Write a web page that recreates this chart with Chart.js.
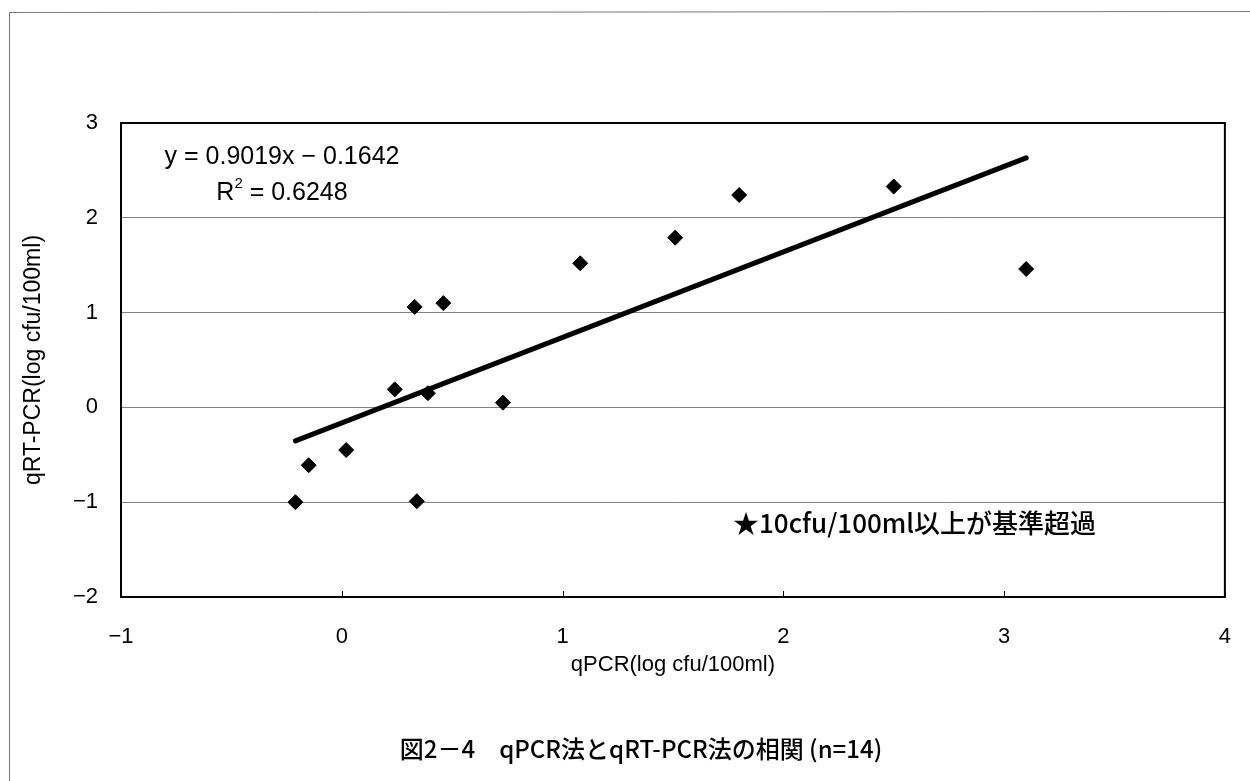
<!DOCTYPE html>
<html lang="ja">
<head>
  <meta charset="UTF-8" />
  <title>qPCR法とqRT-PCR法の相関</title>
  <script src="https://cdn.jsdelivr.net/npm/chart.js"></script>
  <style>
    html, body { margin: 0; padding: 0; background: #fff; }
    #wrap { width: 1250px; height: 781px; position: relative; }
  </style>
</head>
<body>
  <div id="wrap">
    <canvas id="grafico" width="1250" height="781"></canvas>
  </div>

  <script>
    // データ
    const qpcr   = [-0.21, -0.15, 0.02, 0.24, 0.33, 0.34, 0.39, 0.46, 0.73, 1.08, 1.51, 1.80, 2.50, 3.10];
    const qrtpcr = [-1.00, -0.61, -0.45, 0.19, 1.06, -0.99, 0.15, 1.10, 0.05, 1.52, 1.79, 2.24, 2.33, 1.46];

    // 近似直線 y = 0.9019x - 0.1642
    const slope = 0.9019;
    const intercept = -0.1642;
    const r2 = "0.6248";

    const xTicks = [-1, 0, 1, 2, 3, 4];
    const yTicks = [-2, -1, 0, 1, 2, 3];

    const xTitle = "qPCR(log cfu/100ml)";
    const yTitle = "qRT-PCR(log cfu/100ml)";
    const note = "★10cfu/100ml以上が基準超過";
    const caption = "図2－4　qPCR法とqRT-PCR法の相関 (n=14)";

    const puntos = qpcr.map((x, i) => ({ x: x, y: qrtpcr[i] }));
    const xMin = Math.min(...qpcr), xMax = Math.max(...qpcr);
    const tendencia = [
      { x: xMin, y: slope * xMin + intercept },
      { x: xMax, y: slope * xMax + intercept }
    ];

    const latin = "'Liberation Sans', Arial, sans-serif";
    const cjk = "'Noto Sans CJK JP', 'Liberation Sans', sans-serif";

    // 枠・目盛り・注記を描くプラグイン
    const extras = {
      id: 'extras',
      afterDraw(chart) {
        const ctx = chart.ctx;
        const a = chart.chartArea;
        const xs = chart.scales.x;
        ctx.save();

        // ページの枠 (スキャン原稿の線)
        ctx.strokeStyle = '#777';
        ctx.lineWidth = 1;
        ctx.beginPath();
        ctx.moveTo(9.5, 781);
        ctx.lineTo(9.5, 12.5);
        ctx.lineTo(1250, 11.5);
        ctx.stroke();

        // プロットエリアの枠
        ctx.strokeStyle = '#000';
        ctx.lineWidth = 2;
        ctx.strokeRect(a.left, a.top, a.right - a.left, a.bottom - a.top);

        // x軸の内向き目盛り
        ctx.lineWidth = 1;
        ctx.beginPath();
        xTicks.forEach(v => {
          const px = Math.round(xs.getPixelForValue(v)) + 0.5;
          ctx.moveTo(px, a.bottom);
          ctx.lineTo(px, a.bottom - 6);
        });
        ctx.stroke();

        // 回帰式
        ctx.fillStyle = '#000';
        ctx.textBaseline = 'middle';
        ctx.font = '25px ' + latin;
        ctx.textAlign = 'center';
        ctx.fillText('y = 0.9019x − 0.1642', 282, 157);

        const rest = ' = ' + r2;
        const wR = ctx.measureText('R').width;
        const wRest = ctx.measureText(rest).width;
        ctx.font = '15px ' + latin;
        const w2 = ctx.measureText('2').width;
        const total = wR + w2 + wRest;
        let x0 = 282 - total / 2;
        ctx.textAlign = 'left';
        ctx.font = '25px ' + latin;
        ctx.fillText('R', x0, 193);
        ctx.font = '15px ' + latin;
        ctx.fillText('2', x0 + wR, 184);
        ctx.font = '25px ' + latin;
        ctx.fillText(rest, x0 + wR + w2, 193);

        // 注記
        ctx.font = '500 26px ' + cjk;
        ctx.textAlign = 'left';
        ctx.fillText(note, 733, 523);

        // 図タイトル
        ctx.font = '500 24px ' + cjk;
        ctx.textAlign = 'center';
        ctx.fillText(caption, 641, 749);

        ctx.restore();
      }
    };

    const ctx = document.getElementById('grafico').getContext('2d');
    const grafico = new Chart(ctx, {
      type: 'scatter',
      data: {
        datasets: [
          {
            label: 'データ',
            data: puntos,
            pointStyle: 'rectRot',
            pointRadius: 7.5,
            pointBackgroundColor: '#000',
            pointBorderColor: '#000',
            pointBorderWidth: 1,
            order: 2
          },
          {
            label: '近似直線',
            type: 'line',
            data: tendencia,
            borderColor: '#000',
            borderWidth: 5,
            borderCapStyle: 'round',
            pointRadius: 0,
            fill: false,
            order: 1
          }
        ]
      },
      options: {
        responsive: false,
        animation: false,
        layout: { padding: { top: 123, right: 22, left: 0, bottom: 0 } },
        plugins: {
          legend: { display: false },
          tooltip: { enabled: false }
        },
        scales: {
          x: {
            type: 'linear',
            min: -1,
            max: 4,
            afterBuildTicks: s => { s.ticks = xTicks.map(v => ({ value: v })); },
            afterFit: s => { s.height = 184; },
            grid: { display: false },
            border: { display: false },
            ticks: {
              color: '#000',
              padding: 19,
              font: { family: latin, size: 22 },
              callback: v => (v < 0 ? '−' + Math.abs(v) : String(v))
            },
            title: {
              display: true,
              text: xTitle,
              color: '#000',
              font: { family: latin, size: 22 },
              padding: { top: 0, bottom: 103 }
            }
          },
          y: {
            type: 'linear',
            min: -2,
            max: 3,
            afterBuildTicks: s => { s.ticks = yTicks.map(v => ({ value: v })); },
            afterFit: s => { s.width = 121; },
            grid: { color: '#808080', lineWidth: 1, drawTicks: false },
            border: { display: false },
            ticks: {
              color: '#000',
              padding: 23,
              font: { family: latin, size: 22 },
              callback: v => (v < 0 ? '−' + Math.abs(v) : String(v))
            },
            title: {
              display: true,
              text: yTitle,
              color: '#000',
              font: { family: latin, size: 23 },
              padding: { top: 20, bottom: 0 }
            }
          }
        }
      },
      plugins: [extras]
    });
  </script>
</body>
</html>
